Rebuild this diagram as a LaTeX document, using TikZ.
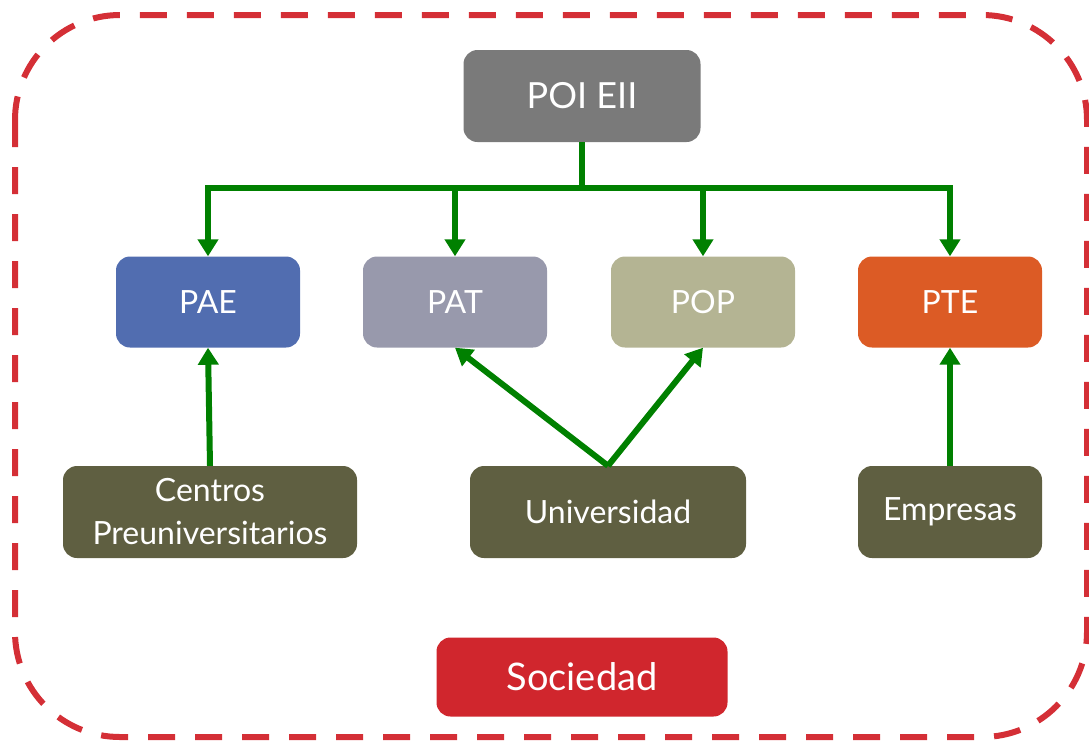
\documentclass[tikz,border=0pt]{standalone}
\usepackage{fontspec}
\setmainfont{Lato}
\usetikzlibrary{arrows.meta}

\definecolor{poigray}{HTML}{7A7A7A}
\definecolor{paeblue}{HTML}{516DB0}
\definecolor{patgray}{HTML}{9899AC}
\definecolor{popkhaki}{HTML}{B4B493}
\definecolor{pteorange}{HTML}{DC5B25}
\definecolor{olive}{HTML}{5F5F41}
\definecolor{socred}{HTML}{D0262D}
\definecolor{dashred}{HTML}{D42F36}
\definecolor{arrowgreen}{HTML}{008000}

\tikzset{
  box/.style={rounded corners=14pt, inner sep=0pt, text=white, align=center,
    font=\fontsize{32}{43}\selectfont},
  flow/.style={draw=arrowgreen, line width=6pt, -{Triangle[width=20pt,length=17pt]}},
}

\begin{document}
\begin{tikzpicture}[x=1pt,y=-1pt]
\useasboundingbox (0,0) rectangle (1089,740);
\draw[dashred, line width=6pt, dash pattern=on 27pt off 20pt, rounded corners=105pt] (15,15) rectangle (1087,737);

\node[box, fill=poigray, minimum width=237pt, minimum height=92pt, font=\fontsize{36}{43}\selectfont] (poi) at (582,96) {POI EII};

\node[box, fill=paeblue, minimum width=184pt, minimum height=91pt] (pae) at (208,302) {PAE};
\node[box, fill=patgray, minimum width=184pt, minimum height=91pt] (pat) at (455,302) {PAT};
\node[box, fill=popkhaki, minimum width=184pt, minimum height=91pt] (pop) at (703,302) {POP};
\node[box, fill=pteorange, minimum width=184pt, minimum height=91pt] (pte) at (950,302) {PTE};

\node[box, fill=olive, minimum width=294pt, minimum height=92pt] (cen) at (210,512) {Centros\\Preuniversitarios};
\node[box, fill=olive, minimum width=276pt, minimum height=92pt] (uni) at (608,512) {Universidad};
\node[box, fill=olive, minimum width=184pt, minimum height=92pt] (emp) at (950,512) {Empresas};

\node[box, fill=socred, minimum width=291pt, minimum height=79pt, font=\fontsize{38}{43}\selectfont] (soc) at (582,677) {Sociedad};

\coordinate (bus) at (582,188);
\draw[draw=arrowgreen, line width=6pt] (poi.south) -- (bus);
\foreach \n in {pae,pat,pop,pte}
  \draw[flow] (bus) -| (\n.north);

\draw[flow] (cen.north) -- (pae.south);
\draw[flow] (uni.north) -- (pat.south);
\draw[flow] (uni.north) -- (pop.south);
\draw[flow] (emp.north) -- (pte.south);
\end{tikzpicture}
\end{document}
